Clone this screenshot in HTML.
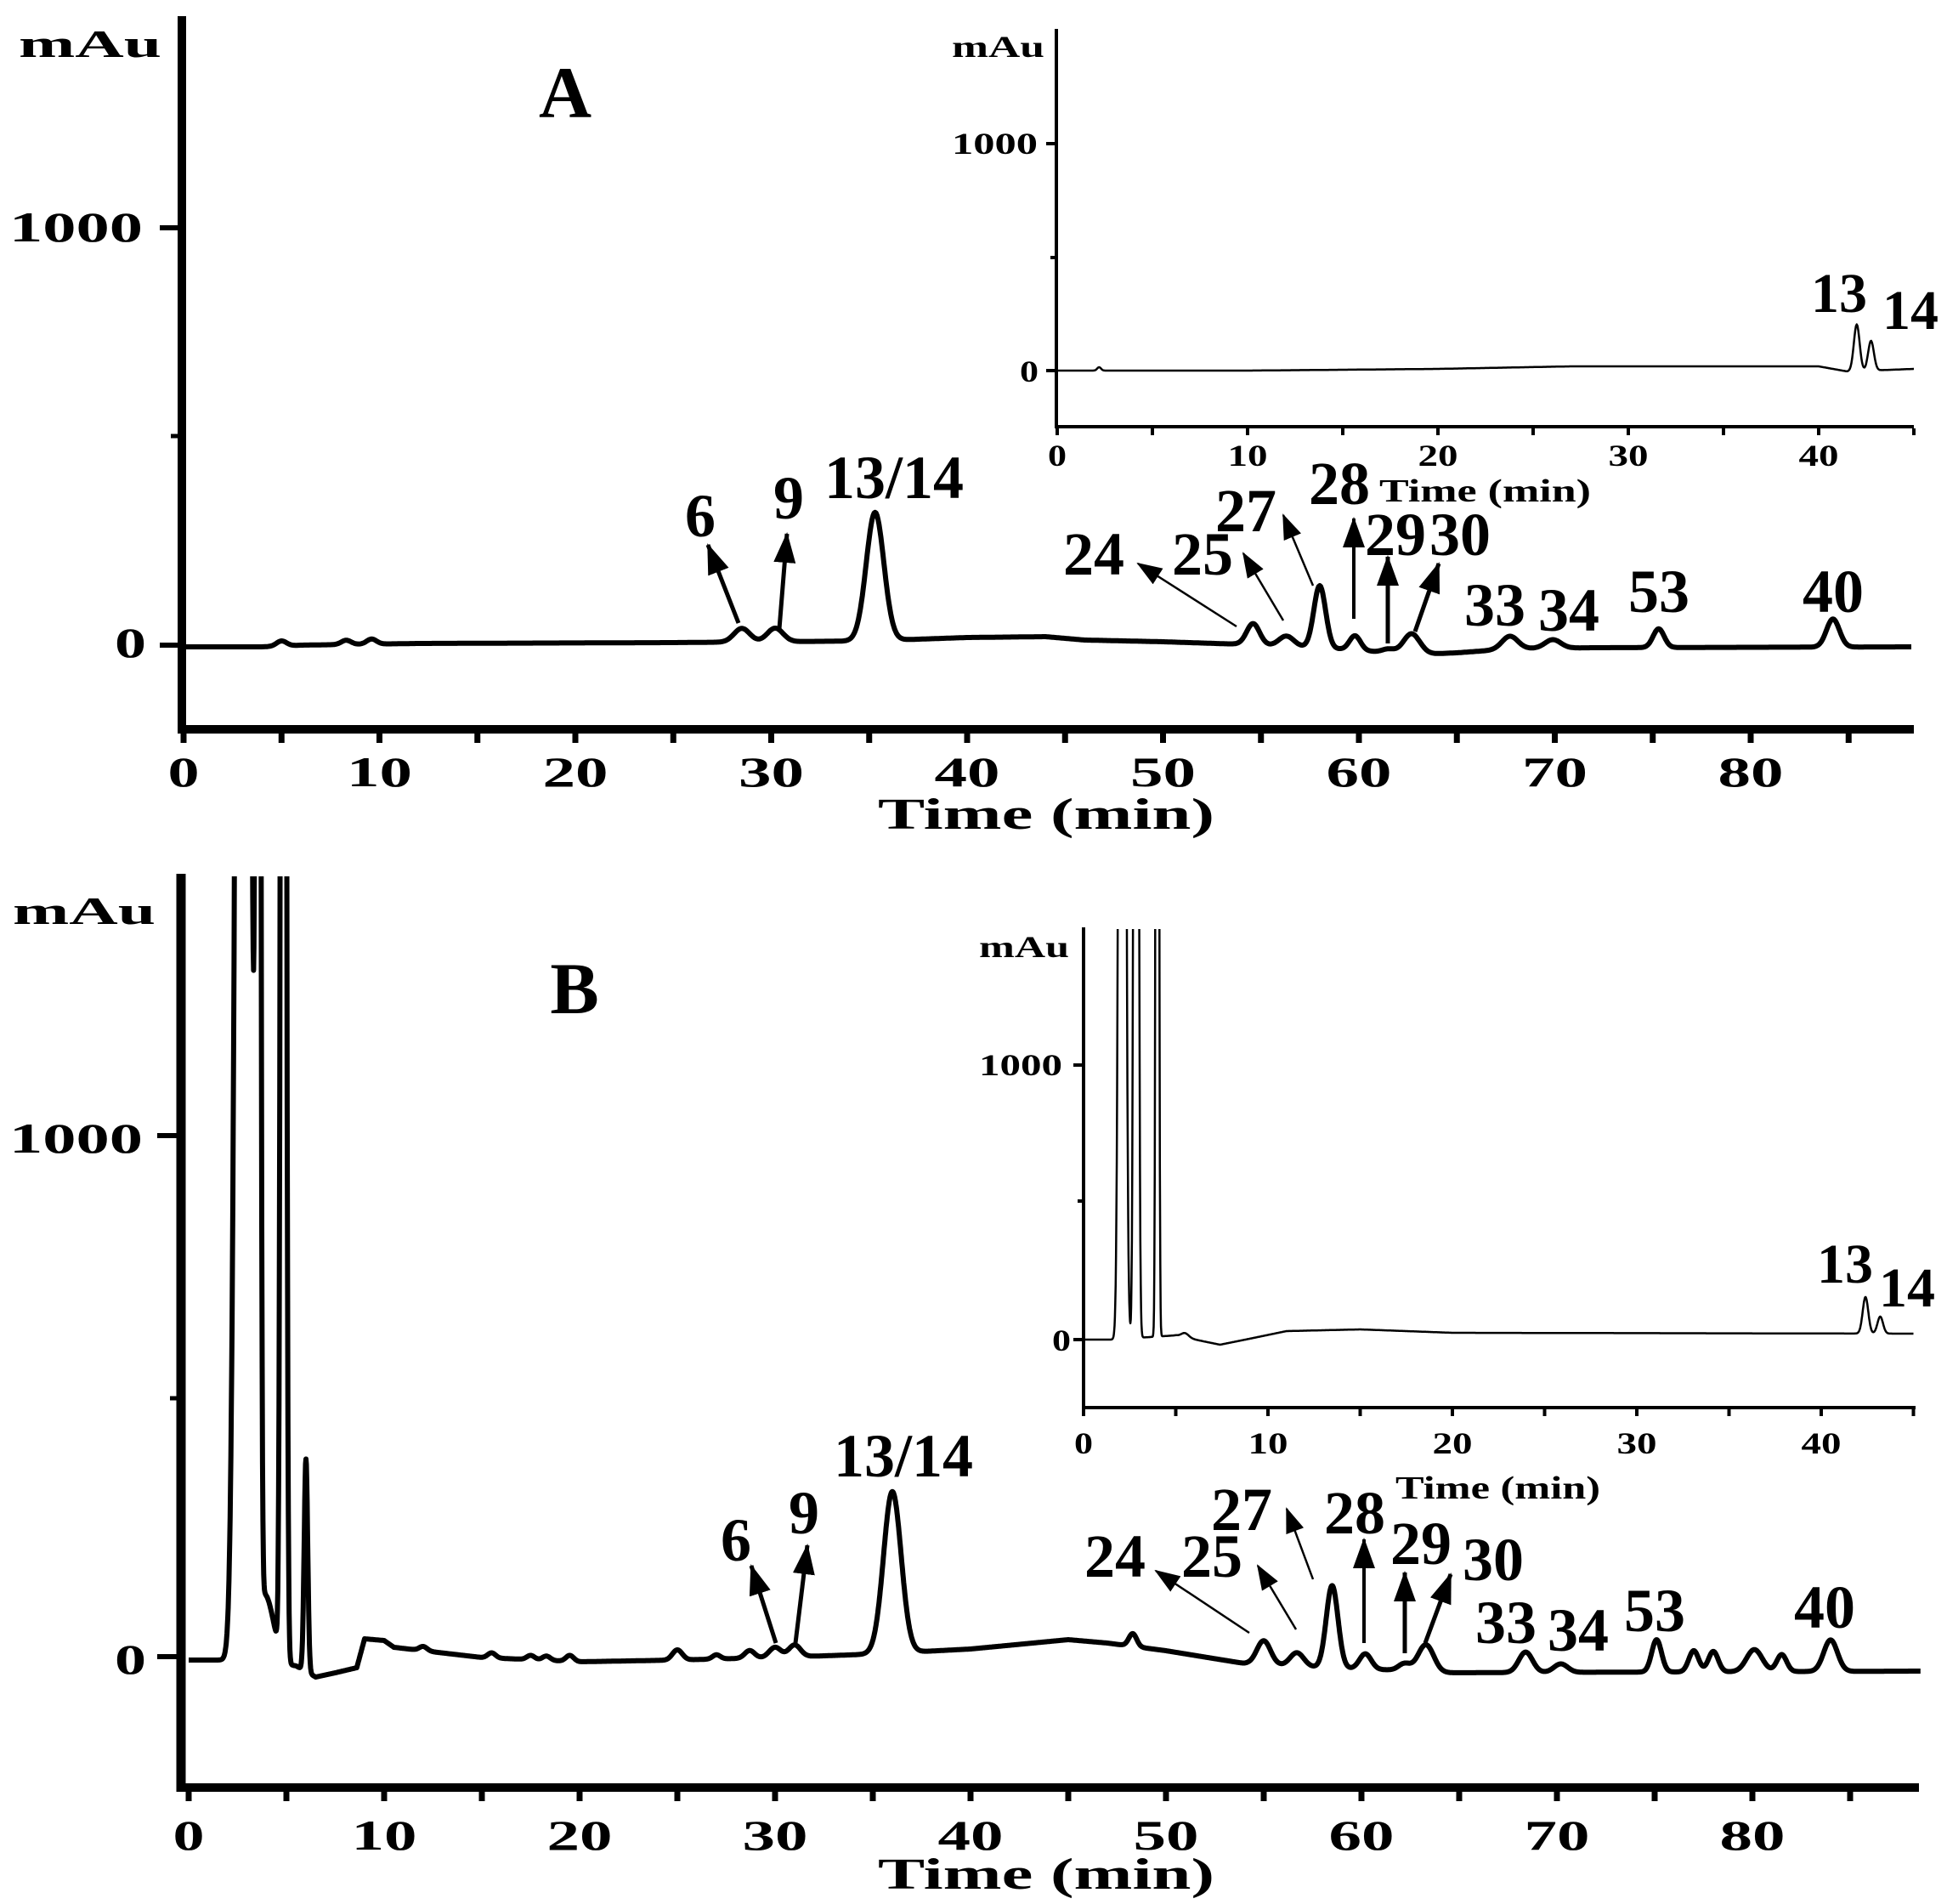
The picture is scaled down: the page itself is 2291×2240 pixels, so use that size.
<!DOCTYPE html>
<html><head><meta charset="utf-8">
<style>
html,body{margin:0;padding:0;background:#fff;}
svg{display:block;}
text{font-family:"Liberation Serif",serif;font-weight:bold;fill:#000;}
</style></head>
<body>
<svg id="s" xmlns="http://www.w3.org/2000/svg" width="2291" height="2240" viewBox="0 0 2291 2240">
<defs>
<clipPath id="cb"><rect x="0" y="1031" width="2291" height="1100"/></clipPath>
<clipPath id="cib"><rect x="1270" y="1093" width="1000" height="600"/></clipPath>
<marker id="ah" markerUnits="userSpaceOnUse" markerWidth="30" markerHeight="30" viewBox="0 0 30 30" refX="28" refY="15" orient="auto"><path d="M0,4 L30,15 L0,26 z" fill="#000"/></marker>
<marker id="ahb" markerUnits="userSpaceOnUse" markerWidth="36" markerHeight="30" viewBox="0 0 36 30" refX="34" refY="15" orient="auto"><path d="M0,2 L36,15 L0,28 z" fill="#000"/></marker>
</defs>

<g stroke="#000" fill="none">
<line x1="214" y1="19" x2="214" y2="863" stroke-width="10"/>
<line x1="209" y1="858" x2="2252" y2="858" stroke-width="10"/>
<line x1="188" y1="268" x2="214" y2="268" stroke-width="6"/>
<line x1="188" y1="759" x2="214" y2="759" stroke-width="6"/>
<line x1="201" y1="513" x2="214" y2="513" stroke-width="5"/>
</g>
<g id="ticksA" stroke="#000" stroke-width="7"></g>
<text x="11" y="284" font-size="50" textLength="157" lengthAdjust="spacingAndGlyphs">1000</text>
<text x="135" y="773" font-size="50" textLength="37" lengthAdjust="spacingAndGlyphs">0</text>
<text x="22" y="67" font-size="46" textLength="168" lengthAdjust="spacingAndGlyphs">mAu</text>
<text x="665" y="138" font-size="86" text-anchor="middle">A</text>
<g id="xlabA"></g>
<text x="1033" y="975" font-size="52" textLength="396" lengthAdjust="spacingAndGlyphs">Time (min)</text>

<g stroke="#000" fill="none" stroke-width="4">
<line x1="1243" y1="34" x2="1243" y2="504"/>
<line x1="1241" y1="502" x2="2252" y2="502"/>
<line x1="1231" y1="169" x2="1243" y2="169"/>
<line x1="1231" y1="436" x2="1243" y2="436"/>
<line x1="1236" y1="303" x2="1243" y2="303"/>
</g>
<g id="ticksIA" stroke="#000" stroke-width="4"></g>
<text x="1120" y="67" font-size="36" textLength="109" lengthAdjust="spacingAndGlyphs">mAu</text>
<text x="1120" y="181" font-size="36" textLength="101" lengthAdjust="spacingAndGlyphs">1000</text>
<text x="1200" y="449" font-size="36" textLength="22" lengthAdjust="spacingAndGlyphs">0</text>
<g id="xlabIA"></g>
<text x="1623" y="590" font-size="38" textLength="249" lengthAdjust="spacingAndGlyphs">Time (min)</text>

<g stroke="#000" fill="none">
<line x1="213" y1="1028" x2="213" y2="2108" stroke-width="11"/>
<line x1="208" y1="2103" x2="2258" y2="2103" stroke-width="10"/>
<line x1="185" y1="1336" x2="213" y2="1336" stroke-width="6"/>
<line x1="185" y1="1949" x2="213" y2="1949" stroke-width="6"/>
<line x1="200" y1="1645" x2="213" y2="1645" stroke-width="5"/>
</g>
<g id="ticksB" stroke="#000" stroke-width="7"></g>
<text x="11" y="1356" font-size="50" textLength="157" lengthAdjust="spacingAndGlyphs">1000</text>
<text x="135" y="1969" font-size="50" textLength="37" lengthAdjust="spacingAndGlyphs">0</text>
<text x="15" y="1087" font-size="46" textLength="168" lengthAdjust="spacingAndGlyphs">mAu</text>
<text x="676" y="1192" font-size="86" text-anchor="middle">B</text>
<g id="xlabB"></g>
<text x="1033" y="2222" font-size="52" textLength="396" lengthAdjust="spacingAndGlyphs">Time (min)</text>

<g stroke="#000" fill="none" stroke-width="4">
<line x1="1275" y1="1091" x2="1275" y2="1658"/>
<line x1="1273" y1="1656" x2="2254" y2="1656"/>
<line x1="1263" y1="1253" x2="1275" y2="1253"/>
<line x1="1263" y1="1576" x2="1275" y2="1576"/>
<line x1="1268" y1="1413" x2="1275" y2="1413"/>
</g>
<g id="ticksIB" stroke="#000" stroke-width="4"></g>
<text x="1152" y="1126" font-size="36" textLength="106" lengthAdjust="spacingAndGlyphs">mAu</text>
<text x="1152" y="1265" font-size="36" textLength="98" lengthAdjust="spacingAndGlyphs">1000</text>
<text x="1238" y="1589" font-size="36" textLength="22" lengthAdjust="spacingAndGlyphs">0</text>
<g id="xlabIB"></g>
<text x="1642" y="1763" font-size="38" textLength="241" lengthAdjust="spacingAndGlyphs">Time (min)</text>

<path id="trA" fill="none" stroke="#000" stroke-width="6" stroke-linejoin="round"/>
<path id="trIA" fill="none" stroke="#000" stroke-width="2.5" stroke-linejoin="round"/>
<path id="trB" fill="none" stroke="#000" stroke-width="6" stroke-linejoin="round" clip-path="url(#cb)"/>
<path id="trIB" fill="none" stroke="#000" stroke-width="2.5" stroke-linejoin="round" clip-path="url(#cib)"/>

<g font-size="72" text-anchor="middle">
<text x="824" y="631">6</text>
<text x="928" y="610">9</text>
<text x="1052" y="586">13/14</text>
<text x="1287" y="676">24</text>
<text x="1415" y="676">25</text>
<text x="1466" y="625">27</text>
<text x="1576" y="593">28</text>
<text x="1642" y="653">29</text>
<text x="1718" y="653">30</text>
<text x="1759" y="736">33</text>
<text x="1846" y="742">34</text>
<text x="1952" y="720">53</text>
<text x="2157" y="720">40</text>
</g>
<g font-size="66" text-anchor="middle">
<text x="2164" y="367">13</text>
<text x="2248" y="387">14</text>
</g>
<g stroke="#000" fill="none">
<line x1="869" y1="733" x2="833" y2="641" stroke-width="5" marker-end="url(#ahb)"/>
<line x1="917" y1="740" x2="926" y2="628" stroke-width="5" marker-end="url(#ahb)"/>
<line x1="1455" y1="737" x2="1339" y2="663" stroke-width="2.5" marker-end="url(#ah)"/>
<line x1="1510" y1="730" x2="1463" y2="651" stroke-width="2.5" marker-end="url(#ah)"/>
<line x1="1545" y1="689" x2="1510" y2="606" stroke-width="2.5" marker-end="url(#ah)"/>
<line x1="1593" y1="728" x2="1593" y2="610" stroke-width="4" marker-end="url(#ahb)"/>
<line x1="1633" y1="757" x2="1633" y2="655" stroke-width="5" marker-end="url(#ahb)"/>
<line x1="1665" y1="743" x2="1693" y2="663" stroke-width="5" marker-end="url(#ahb)"/>
</g>

<g font-size="72" text-anchor="middle">
<text x="866" y="1836">6</text>
<text x="946" y="1804">9</text>
<text x="1063" y="1737">13/14</text>
<text x="1312" y="1855">24</text>
<text x="1426" y="1855">25</text>
<text x="1461" y="1800">27</text>
<text x="1594" y="1804">28</text>
<text x="1672" y="1840">29</text>
<text x="1757" y="1859">30</text>
<text x="1772" y="1933">33</text>
<text x="1857" y="1942">34</text>
<text x="1947" y="1919">53</text>
<text x="2147" y="1915">40</text>
</g>
<g font-size="66" text-anchor="middle">
<text x="2171" y="1509">13</text>
<text x="2244" y="1537">14</text>
</g>
<g stroke="#000" fill="none">
<line x1="913" y1="1933" x2="884" y2="1842" stroke-width="5" marker-end="url(#ahb)"/>
<line x1="936" y1="1933" x2="950" y2="1818" stroke-width="5" marker-end="url(#ahb)"/>
<line x1="1470" y1="1921" x2="1360" y2="1848" stroke-width="2.5" marker-end="url(#ah)"/>
<line x1="1525" y1="1917" x2="1480" y2="1842" stroke-width="2.5" marker-end="url(#ah)"/>
<line x1="1545" y1="1858" x2="1514" y2="1775" stroke-width="2.5" marker-end="url(#ah)"/>
<line x1="1605" y1="1933" x2="1605" y2="1811" stroke-width="4" marker-end="url(#ahb)"/>
<line x1="1653" y1="1945" x2="1653" y2="1850" stroke-width="5" marker-end="url(#ahb)"/>
<line x1="1677" y1="1933" x2="1707" y2="1852" stroke-width="5" marker-end="url(#ahb)"/>
</g>
</svg>
<script>
(function(){
var NS="http://www.w3.org/2000/svg";
function interp(pts,t){
  if(t<=pts[0][0])return pts[0][1];
  for(var i=1;i<pts.length;i++){if(t<=pts[i][0]){var a=pts[i-1],b=pts[i];return a[1]+(b[1]-a[1])*(t-a[0])/(b[0]-a[0]);}}
  return pts[pts.length-1][1];
}
function trace(id,x0,ppm,t0,t1,base,peaks,dt){
  var d="",first=true;
  for(var t=t0;t<=t1+1e-9;t+=dt){
    var y=interp(base,t);
    for(var k=0;k<peaks.length;k++){var p=peaks[k];var z=(t-p[0])/p[2];if(Math.abs(z)<6)y-=p[1]*Math.exp(-z*z/2);}
    if(y<-50)y=-50;
    d+=(first?"M":"L")+(x0+ppm*t).toFixed(1)+","+y.toFixed(1);first=false;
  }
  document.getElementById(id).setAttribute("d",d);
}
function ticks(id,x0,ppm,tmax,y,len){
  var g=document.getElementById(id);
  for(var t=0;t<=tmax;t+=5){var l=document.createElementNS(NS,"line");var x=x0+ppm*t;
    l.setAttribute("x1",x);l.setAttribute("x2",x);l.setAttribute("y1",y);l.setAttribute("y2",y+len);g.appendChild(l);}
}
function labels(id,x0,ppm,tmax,y,fs,w1,w2){
  var g=document.getElementById(id);
  for(var t=0;t<=tmax;t+=10){var tx=document.createElementNS(NS,"text");var s=String(t);var w=s.length==1?w1:w2;
    tx.setAttribute("x",x0+ppm*t-w/2);tx.setAttribute("y",y);tx.setAttribute("font-size",fs);
    tx.setAttribute("textLength",w);tx.setAttribute("lengthAdjust","spacingAndGlyphs");tx.textContent=s;g.appendChild(tx);}
}
var xA=216,pA=23.05;
trace("trA",xA,pA,0,88.2,[[0,761],[4,761],[6,759],[12,757],[25,756],[30,755],[35,754],[40,750],[44,749],[46,753],[50,755],[54,758],[58,762],[63,770],[65,768],[68,763],[72,762],[88.2,761]],
[[5,6,0.25],[8.3,5,0.25],[9.6,6,0.25],[28.5,16,0.4],[30.2,16,0.4],[35.3,151,0.45],[54.6,25,0.33],[56.3,12,0.38],[58.0,73,0.3],[59.8,17,0.28],[61.5,4,0.3],[62.7,24,0.42],[67.7,15,0.4],[69.9,10,0.4],[75.3,22,0.28],[84.2,33,0.33]],0.05);
ticks("ticksA",xA,pA,85,862,12);
labels("xlabA",xA,pA,80,925,50,37,77);
var xIA=1244,pIA=22.4;
trace("trIA",xIA,pIA,0,45,[[0,436],[10,436],[20,434],[27,431],[40,431],[41.5,437],[45,434]],
[[2.2,4,0.1],[42.0,55,0.15],[42.75,35,0.15]],0.04);
ticks("ticksIA",xIA,pIA,45,504,8);
labels("xlabIA",xIA,pIA,40,548,36,22,47);
var xB=222,pB=23.0;
trace("trB",xB,pB,0,88.6,[[0,1953],[2.3,1953],[5.5,1960],[6.5,1973],[7.5,1968],[8.6,1962],[9.0,1928],[10,1930],[10.5,1938],[12,1942],[15,1950],[20,1955],[25,1953],[30,1950],[35,1946],[40,1940],[45,1929],[47,1933],[50,1942],[54,1957],[58,1962],[62,1965],[64,1968],[88.6,1966]],
[[2.8,4000,0.27],[3.55,4000,0.09],[3.9,80,0.45],[4.85,4000,0.1],[6.0,250,0.09],[12,5,0.2],[15.5,6,0.2],[17.5,5,0.2],[18.3,5,0.2],[19.5,7,0.2],[25,12,0.25],[27,5,0.2],[28.7,9,0.25],[30,12,0.3],[31,14,0.3],[36,190,0.45],[48.3,15,0.2],[55,28,0.35],[56.7,16,0.35],[58.5,97,0.3],[60.2,18,0.3],[62.2,8,0.3],[63.3,32,0.4],[68.4,24,0.35],[70.2,10,0.35],[75.1,38,0.25],[77,25,0.25],[78,24,0.25],[80.1,26,0.4],[81.5,20,0.25],[84,37,0.35]],0.02);
ticks("ticksB",xB,pB,85,2107,12);
labels("xlabB",xB,pB,80,2176,50,37,77);
var xIB=1275,pIB=21.7;
trace("trIB",xIB,pIB,0,45,[[0,1576],[1.5,1576],[5,1571],[6.5,1578],[7.4,1582],[9,1575],[11,1566],[15,1564],[20,1568],[45,1569]],
[[2.1,3000,0.13],[2.85,3000,0.09],[4.0,3000,0.06],[5.5,5,0.2],[42.4,43,0.15],[43.2,20,0.15]],0.02);
ticks("ticksIB",xIB,pIB,45,1658,8);
labels("xlabIB",xIB,pIB,40,1710,36,22,47);
})();
</script>
</body></html>
